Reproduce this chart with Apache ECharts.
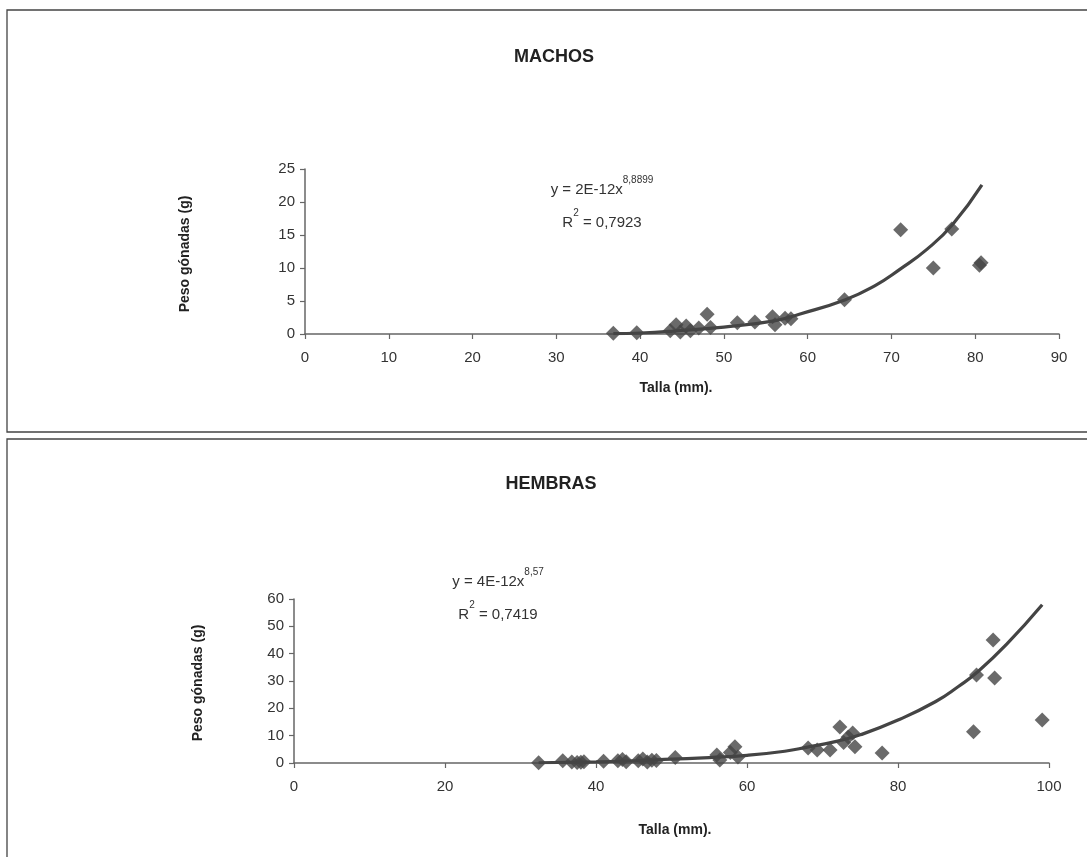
<!DOCTYPE html>
<html>
<head>
<meta charset="utf-8">
<script src="https://cdn.jsdelivr.net/npm/echarts@6/dist/echarts.min.js"></script>
<style>html,body{margin:0;padding:0;background:#fff}#c{width:1087px;height:857px}</style>
</head>
<body>
<div id="c"></div>
<script>
// MACHOS
const machosTalla = [36.8, 39.6, 43.6, 44.3, 44.8, 45.5, 46.0, 47.0, 48.0, 48.4, 51.6, 53.7, 55.8, 56.1, 57.3, 58.0, 64.4, 71.1, 75.0, 77.2, 80.5, 80.7];
const machosPeso  = [0.1, 0.2, 0.5, 1.4, 0.3, 1.2, 0.5, 0.9, 3.0, 1.0, 1.7, 1.8, 2.6, 1.4, 2.4, 2.3, 5.2, 15.8, 10.0, 15.9, 10.4, 10.8];
const machosCurveX = [36.8, 40, 44, 50, 56, 59, 64.5, 68, 71, 74.3, 77.3, 80.8];
const machosCurveY = [0.05, 0.15, 0.45, 1.05, 2.0, 3.0, 5.2, 7.3, 9.8, 12.9, 16.6, 22.6];
// HEMBRAS
const hembrasTalla = [32.4, 35.6, 36.8, 37.5, 38.0, 38.4, 41.0, 42.9, 43.5, 44.0, 45.6, 46.2, 46.8, 47.4, 48.0, 50.5, 56.0, 56.4, 57.8, 58.4, 58.8, 68.1, 69.3, 71.0, 72.3, 72.8, 73.4, 74.0, 74.3, 77.9, 90.0, 90.4, 92.6, 92.8, 99.1];
const hembrasPeso  = [0.1, 0.8, 0.4, 0.2, 0.3, 0.5, 0.6, 0.8, 1.3, 0.5, 0.8, 1.5, 0.4, 1.0, 0.9, 2.0, 2.9, 1.1, 3.8, 5.9, 2.2, 5.5, 4.8, 4.8, 13.2, 7.5, 9.5, 11.0, 5.9, 3.7, 11.4, 32.2, 45.0, 31.1, 15.7];
const hembrasCurveX = [32.4, 40, 45, 50, 55, 60, 65, 68, 72, 75, 80, 85, 88, 90.4, 94.4, 99.1];
const hembrasCurveY = [0.1, 0.4, 0.8, 1.4, 2.0, 2.8, 4.3, 5.8, 8.0, 10.3, 15.7, 22.5, 28.0, 33.0, 43.5, 57.9];

const titles = ['MACHOS', 'HEMBRAS'];
const xName = 'Talla (mm).';
const yName = 'Peso gónadas (g)';
const eq = [['2E-12x', '8,8899', '0,7923'], ['4E-12x', '8,57', '0,7419']];

const zip = (a, b) => a.map((v, i) => [v, b[i]]);
const FONT = '"Liberation Sans", Arial, sans-serif';
const INK = '#333';

const axisCommon = {
  axisLine: { show: true, lineStyle: { color: '#666', width: 1.5 } },
  axisTick: { show: true, length: 5, lineStyle: { color: '#666', width: 1.2 } },
  splitLine: { show: false },
  axisLabel: { color: INK, fontSize: 15, fontFamily: FONT }
};

const scatterStyle = { symbol: 'diamond', symbolSize: 15, itemStyle: { color: '#454545' } };
const lineStyle = { type: 'line', smooth: true, showSymbol: false, symbol: 'none', lineStyle: { color: '#444', width: 3.2 }, z: 3 };

function eqText(x, y, coef, exp, r2) {
  const rich = { a: { fontSize: 15, fontFamily: FONT, fill: INK, lineHeight: 22, verticalAlign: 'bottom' },
                 s: { fontSize: 10, fontFamily: FONT, fill: INK, lineHeight: 22, verticalAlign: 'top' } };
  return [
    { type: 'text', x: x, y: y, style: { text: '{a|y = ' + coef + '}{s|' + exp + '}', align: 'center', verticalAlign: 'middle', rich: rich } },
    { type: 'text', x: x, y: y + 33, style: { text: '{a|R}{s|2}{a| = ' + r2 + '}', align: 'center', verticalAlign: 'middle', rich: rich } }
  ];
}

const chart = echarts.init(document.getElementById('c'), null, { renderer: 'canvas' });
chart.setOption({
  backgroundColor: '#fff',
  animation: false,
  grid: [
    { left: 305, top: 169, width: 754, height: 165 },
    { left: 294, top: 599, width: 755, height: 164 }
  ],
  xAxis: [
    Object.assign({}, axisCommon, { gridIndex: 0, type: 'value', min: 0, max: 90, interval: 10, axisLabel: Object.assign({}, axisCommon.axisLabel, { margin: 16 }) }),
    Object.assign({}, axisCommon, { gridIndex: 1, type: 'value', min: 0, max: 100, interval: 20, axisLabel: Object.assign({}, axisCommon.axisLabel, { margin: 16 }) })
  ],
  yAxis: [
    Object.assign({}, axisCommon, { gridIndex: 0, type: 'value', min: 0, max: 25, interval: 5, axisLabel: Object.assign({}, axisCommon.axisLabel, { margin: 10 }) }),
    Object.assign({}, axisCommon, { gridIndex: 1, type: 'value', min: 0, max: 60, interval: 10, axisLabel: Object.assign({}, axisCommon.axisLabel, { margin: 10 }) })
  ],
  series: [
    Object.assign({ type: 'scatter', xAxisIndex: 0, yAxisIndex: 0, data: zip(machosTalla, machosPeso), z: 4 }, scatterStyle),
    Object.assign({ xAxisIndex: 0, yAxisIndex: 0, data: zip(machosCurveX, machosCurveY) }, lineStyle),
    Object.assign({ type: 'scatter', xAxisIndex: 1, yAxisIndex: 1, data: zip(hembrasTalla, hembrasPeso), z: 4 }, scatterStyle),
    Object.assign({ xAxisIndex: 1, yAxisIndex: 1, data: zip(hembrasCurveX, hembrasCurveY) }, lineStyle)
  ],
  graphic: [
    { type: 'rect', shape: { x: 7, y: 10, width: 1100, height: 422 }, style: { fill: 'none', stroke: '#444', lineWidth: 1.3 }, z: -1 },
    { type: 'rect', shape: { x: 7, y: 439, width: 1100, height: 430 }, style: { fill: 'none', stroke: '#444', lineWidth: 1.3 }, z: -1 },
    { type: 'text', x: 554, y: 57, style: { text: titles[0], align: 'center', verticalAlign: 'middle', font: 'bold 18px ' + FONT, fill: '#222' } },
    { type: 'text', x: 551, y: 484, style: { text: titles[1], align: 'center', verticalAlign: 'middle', font: 'bold 18px ' + FONT, fill: '#222' } },
    { type: 'text', x: 676, y: 388, style: { text: xName, align: 'center', verticalAlign: 'middle', font: 'bold 14px ' + FONT, fill: '#222' } },
    { type: 'text', x: 675, y: 830, style: { text: xName, align: 'center', verticalAlign: 'middle', font: 'bold 14px ' + FONT, fill: '#222' } },
    { type: 'text', x: 185, y: 254, rotation: Math.PI / 2, style: { text: yName, align: 'center', verticalAlign: 'middle', font: 'bold 14px ' + FONT, fill: '#222' } },
    { type: 'text', x: 198, y: 683, rotation: Math.PI / 2, style: { text: yName, align: 'center', verticalAlign: 'middle', font: 'bold 14px ' + FONT, fill: '#222' } }
  ].concat(eqText(602, 186, eq[0][0], eq[0][1], eq[0][2]), eqText(498, 578, eq[1][0], eq[1][1], eq[1][2]))
});
</script>
</body>
</html>
